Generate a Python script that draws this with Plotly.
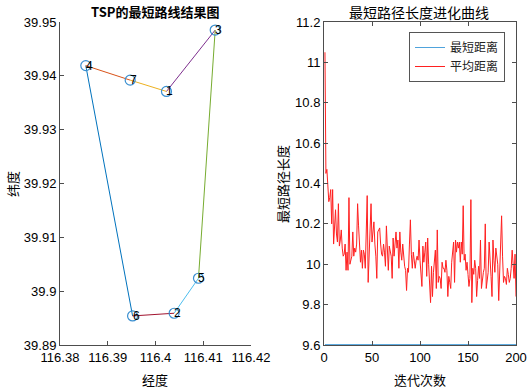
import plotly.graph_objects as go

# ---- TSP route data ----
city_ids = ["6", "4", "7", "1", "3", "5", "2"]
city_lon = [116.3952, 116.3854, 116.3947, 116.4023, 116.4125, 116.4090, 116.4039]
city_lat = [39.8954, 39.9419, 39.9392, 39.9371, 39.9485, 39.9024, 39.8959]
seg_colors = ["#0072BD", "#D95319", "#EDB120", "#7E2F8E", "#77AC30", "#4DBEEE", "#A2142F"]

lon_ticks = [116.38, 116.39, 116.40, 116.41, 116.42]
lon_ticktext = ["116.38", "116.39", "116.4", "116.41", "116.42"]
lat_ticks = [39.89, 39.90, 39.91, 39.92, 39.93, 39.94, 39.95]
lat_ticktext = ["39.89", "39.9", "39.91", "39.92", "39.93", "39.94", "39.95"]

# ---- evolution data ----
avg_dist = [
    11.05, 10.45, 10.47, 10.36, 10.31, 10.33, 10.37, 10.20, 10.37, 10.10,
    10.22, 10.27, 10.15, 10.11, 10.30, 10.09, 10.12, 10.17, 10.08, 10.04,
    10.05, 10.10, 9.97, 10.06, 9.97, 10.33, 10.00, 10.02, 10.04, 10.16,
    10.04, 10.08, 10.06, 10.10, 10.30, 10.19, 10.12, 10.01, 10.07, 9.98,
    10.07, 10.05, 9.98, 10.15, 10.34, 9.91, 10.05, 10.20, 10.30, 10.11,
    10.15, 10.21, 10.10, 10.04, 9.93, 10.16, 10.17, 10.18, 10.10, 10.05,
    10.04, 10.10, 10.06, 9.99, 10.19, 10.05, 9.97, 10.09, 10.06, 10.04,
    9.93, 10.13, 10.04, 10.10, 10.16, 10.08, 10.12, 9.98, 10.16, 10.06,
    10.02, 10.10, 10.04, 9.99, 9.97, 9.87, 9.98, 9.96, 10.10, 10.22,
    10.05, 9.98, 10.06, 10.02, 9.98, 10.02, 10.04, 10.02, 10.12, 10.02,
    9.95, 9.89, 10.09, 10.01, 10.06, 10.11, 9.94, 10.13, 10.00, 9.93,
    9.81, 9.99, 9.84, 9.96, 10.04, 10.07, 9.88, 10.17, 9.91, 9.94,
    9.93, 9.88, 10.01, 9.98, 9.98, 9.96, 10.02, 9.97, 9.84, 9.94,
    9.91, 9.88, 10.01, 10.05, 10.11, 9.91, 10.12, 10.06, 10.11, 10.08,
    10.11, 10.01, 10.11, 10.05, 10.29, 10.02, 10.05, 9.97, 10.01, 9.95,
    9.89, 9.93, 10.32, 9.81, 9.98, 9.95, 10.02, 9.98, 9.84, 9.92,
    9.99, 9.93, 10.12, 9.88, 9.93, 9.96, 9.98, 10.20, 9.88, 9.94,
    9.96, 10.11, 9.98, 9.94, 9.84, 10.12, 10.02, 9.96, 10.08, 10.02,
    10.00, 9.82, 9.95, 10.05, 10.24, 10.04, 9.91, 9.94, 9.93, 9.90,
    9.98, 9.95, 9.91, 9.93, 9.98, 10.07, 9.96, 9.93, 10.05, 9.84,
]
best_dist = [9.602] * len(avg_dist)
iterations = list(range(1, len(avg_dist) + 1))

it_ticks = [0, 50, 100, 150, 200]
len_ticks = [9.6, 9.8, 10.0, 10.2, 10.4, 10.6, 10.8, 11.0, 11.2]
len_ticktext = ["9.6", "9.8", "10", "10.2", "10.4", "10.6", "10.8", "11", "11.2"]

W, H = 529, 391
CJK = "Noto Sans CJK SC"
NUM = "Liberation Sans, Arial, sans-serif"
AX = "#4d4d4d"

fig = go.Figure()

# route segments (closed loop)
n = len(city_ids)
for i in range(n):
    j = (i + 1) % n
    fig.add_trace(go.Scatter(
        x=[city_lon[i], city_lon[j]], y=[city_lat[i], city_lat[j]],
        mode="lines", line=dict(color=seg_colors[i], width=1),
        xaxis="x", yaxis="y", showlegend=False, hoverinfo="skip"))

fig.add_trace(go.Scatter(
    x=city_lon, y=city_lat, mode="markers",
    marker=dict(symbol="circle-open", size=10, color="#3a8fd0", line=dict(width=1.2)),
    xaxis="x", yaxis="y", showlegend=False))

for cid, lo, la in zip(city_ids, city_lon, city_lat):
    fig.add_annotation(x=lo, y=la, xref="x", yref="y", text=cid, showarrow=False,
                       xanchor="left", yanchor="middle", xshift=-2,
                       font=dict(family=NUM, size=12, color="black"))

# evolution curves
fig.add_trace(go.Scatter(
    x=iterations, y=best_dist, mode="lines", name="最短距离",
    line=dict(color="#4fa3dc", width=1), xaxis="x2", yaxis="y2"))
fig.add_trace(go.Scatter(
    x=iterations, y=avg_dist, mode="lines", name="平均距离",
    line=dict(color="#ff2020", width=1), xaxis="x2", yaxis="y2"))

common = dict(showgrid=False, zeroline=False, ticks="inside", ticklen=4,
              tickcolor=AX, linecolor=AX, linewidth=1, showline=True,
              automargin=False,
              tickfont=dict(family=NUM, size=13, color="black"))

fig.update_layout(
    width=W, height=H,
    margin=dict(l=0, r=0, t=0, b=0, autoexpand=False),
    paper_bgcolor="white", plot_bgcolor="white",
    xaxis=dict(domain=[60 / W, 251 / W], range=[116.38, 116.42],
               tickvals=lon_ticks, ticktext=lon_ticktext, anchor="y", **common),
    yaxis=dict(domain=[1 - 345 / H, 1 - 22 / H], range=[39.89, 39.95],
               tickvals=lat_ticks, ticktext=lat_ticktext, anchor="x", **common),
    xaxis2=dict(domain=[324 / W, 516 / W], range=[0, 200], tickvals=it_ticks,
                anchor="y2", mirror="ticks", **common),
    yaxis2=dict(domain=[1 - 345 / H, 1 - 22 / H], range=[9.6, 11.2],
                tickvals=len_ticks, ticktext=len_ticktext, anchor="x2",
                mirror="ticks", **common),
    legend=dict(x=505 / W, y=1 - 32 / H, xanchor="right", yanchor="top",
                bgcolor="white", bordercolor="#555", borderwidth=1,
                font=dict(family=CJK, size=12, color="#222"),
                tracegroupgap=0, itemwidth=30),
    showlegend=True,
)

# titles and axis labels
def label(text, x, y, size=13, angle=0, bold=False):
    fig.add_annotation(x=x / W, y=1 - y / H, xref="paper", yref="paper",
                       text=f"<b>{text}</b>" if bold else text, showarrow=False,
                       textangle=angle, xanchor="center", yanchor="middle",
                       font=dict(family=CJK, size=size, color="black"))

label("TSP的最短路线结果图", 155, 11, size=13, bold=True)
label("最短路径长度进化曲线", 419, 12, size=14)
label("经度", 155, 379, size=13)
label("迭代次数", 420, 379, size=13)
label("纬度", 12, 184, size=13, angle=-90)
label("最短路径长度", 282, 184, size=13, angle=-90)

fig.write_html(
    "out.html",
    config={"displayModeBar": False},
    post_script="document.body.style.margin='0';document.body.style.overflow='hidden';",
)
